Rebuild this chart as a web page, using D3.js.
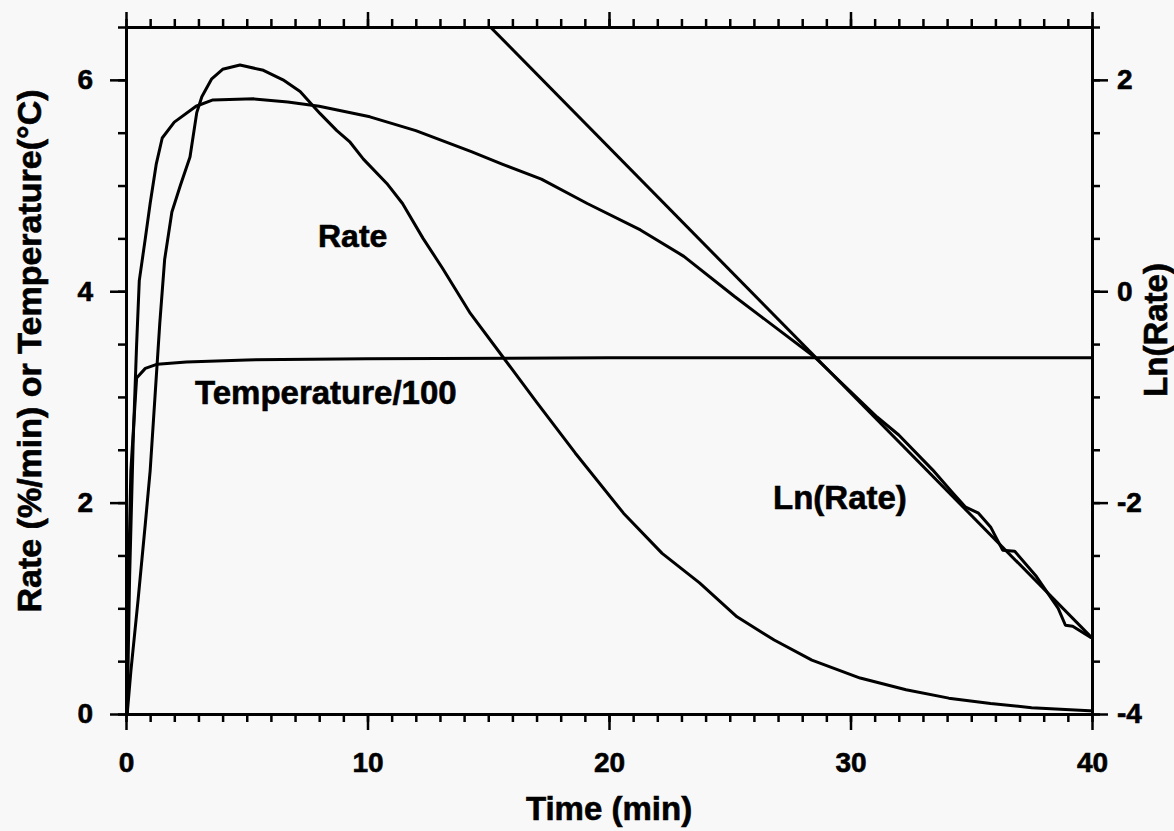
<!DOCTYPE html>
<html>
<head>
<meta charset="utf-8">
<script src="https://cdn.jsdelivr.net/npm/d3@7"></script>
<style>
  html, body { margin: 0; padding: 0; background: #f8f8f8; }
  svg { display: block; }
  text { font-family: "Liberation Sans", Arial, Helvetica, sans-serif; font-weight: bold; fill: #000; stroke: #000; stroke-width: 0.6px; }
</style>
</head>
<body>
<svg id="chart" width="1174" height="831"></svg>
<script>
// ---------------- data ----------------
const rateT = [0.05, 0.2, 0.5, 0.8, 1.0, 1.2, 1.4, 1.6, 1.9, 2.25, 2.65, 2.93, 3.14, 3.55, 4.0, 4.72, 5.69, 6.5, 7.21, 8.04, 8.73, 9.28, 9.83, 10.8, 11.45, 12.3, 13.1, 14.26, 15.6, 17.0, 18.6, 20.6, 22.2, 23.75, 25.3, 26.84, 28.4, 30.4, 32.3, 34.07, 35.8, 37.5, 39.9, 40];
const rateV = [0, 0.4, 1.08, 1.8, 2.3, 3.0, 3.7, 4.3, 4.75, 5.0, 5.27, 5.69, 5.84, 6.01, 6.1, 6.14, 6.09, 6.0, 5.89, 5.68, 5.52, 5.41, 5.25, 5.02, 4.83, 4.50, 4.22, 3.79, 3.38, 2.95, 2.47, 1.90, 1.52, 1.24, 0.92, 0.70, 0.51, 0.34, 0.23, 0.15, 0.10, 0.06, 0.03, 0.03];

const tempT = [0.02, 0.08, 0.2, 0.44, 0.8, 1.3, 2.5, 5, 10, 20, 30, 40];
const tempV = [0, 1.0, 2.3, 3.18, 3.27, 3.31, 3.33, 3.35, 3.36, 3.37, 3.37, 3.37];

// Ln(Rate), right-axis units
const lnT = [0.05, 0.15, 0.3, 0.44, 0.55, 0.8, 1.0, 1.25, 1.5, 2.0, 2.9, 3.6, 5.3, 6.7, 8.0, 10.1, 12.0, 14.3, 15.6, 17.2, 19.1, 21.3, 23.1, 25.2, 26.3, 28.5, 31.1, 32.0, 33.4, 34.2, 34.75, 35.3, 35.8, 36.3, 36.8, 37.7, 38.6, 38.9, 39.2, 39.9, 40];
const lnV = [-4, -2.7, -1.4, -0.5, 0.1, 0.5, 0.83, 1.2, 1.45, 1.6, 1.75, 1.81, 1.82, 1.79, 1.75, 1.65, 1.52, 1.32, 1.2, 1.06, 0.83, 0.58, 0.33, -0.05, -0.24, -0.62, -1.19, -1.36, -1.69, -1.9, -2.04, -2.1, -2.23, -2.45, -2.46, -2.70, -3.0, -3.16, -3.17, -3.27, -3.28];

// straight-line fit of Ln(Rate), right-axis units
const fitT = [15, 40];
const fitV = [2.52, -3.28];

const xMajor = [0, 10, 20, 30, 40];
const xMinor = d3.range(0, 41, 1);
const yLeftMajor = [0, 2, 4, 6];
const yLeftMinor = d3.range(0, 6.51, 0.5);
const yRightMajor = [-4, -2, 0, 2];
const yRightMinor = d3.range(-4, 2.51, 0.5);

const labels = {
  x: "Time (min)",
  yLeft: "Rate (%/min) or Temperature(\u00B0C)",
  yRight: "Ln(Rate)",
  rate: "Rate",
  temp: "Temperature/100",
  ln: "Ln(Rate)"
};

// ---------------- layout ----------------
const L = 126, R = 1092, T = 27, B = 714;
const svg = d3.select("#chart");

const x = d3.scaleLinear().domain([0, 40]).range([L, R]);
const yL = d3.scaleLinear().domain([0, 6.5]).range([B, T]);
const yR = d3.scaleLinear().domain([-4, 2.5]).range([B, T]);

svg.append("defs").append("clipPath").attr("id", "plot")
  .append("rect").attr("x", L).attr("y", T).attr("width", R - L).attr("height", B - T);

const tickFont = 28;
const fmt = d => String(d);
function styleAxis(g, showLabels) {
  g.select(".domain").attr("stroke", "#000").attr("stroke-width", 3);
  g.selectAll(".tick line").attr("stroke", "#000").attr("stroke-width", 2.5);
  g.selectAll(".tick text").style("font-size", tickFont + "px")
    .attr("fill", "#000")
    .style("display", showLabels ? null : "none");
}

// bottom
svg.append("g").attr("transform", `translate(0,${B})`)
  .call(d3.axisBottom(x).tickValues(xMinor).tickSize(8).tickSizeOuter(0).tickFormat(""))
  .call(g => styleAxis(g, false));
svg.append("g").attr("transform", `translate(0,${B})`)
  .call(d3.axisBottom(x).tickValues(xMajor).tickSize(16).tickSizeOuter(0).tickPadding(22).tickFormat(fmt))
  .call(g => styleAxis(g, true));
// top
svg.append("g").attr("transform", `translate(0,${T})`)
  .call(d3.axisTop(x).tickValues(xMinor).tickSize(8).tickSizeOuter(0).tickFormat(""))
  .call(g => styleAxis(g, false));
svg.append("g").attr("transform", `translate(0,${T})`)
  .call(d3.axisTop(x).tickValues(xMajor).tickSize(15).tickSizeOuter(0).tickFormat(""))
  .call(g => styleAxis(g, false));
// left
svg.append("g").attr("transform", `translate(${L},0)`)
  .call(d3.axisLeft(yL).tickValues(yLeftMinor).tickSize(8).tickSizeOuter(0).tickFormat(""))
  .call(g => styleAxis(g, false));
svg.append("g").attr("transform", `translate(${L},0)`)
  .call(d3.axisLeft(yL).tickValues(yLeftMajor).tickSize(16).tickSizeOuter(0).tickPadding(17).tickFormat(fmt))
  .call(g => styleAxis(g, true));
// right
svg.append("g").attr("transform", `translate(${R},0)`)
  .call(d3.axisRight(yR).tickValues(yRightMinor).tickSize(8).tickSizeOuter(0).tickFormat(""))
  .call(g => styleAxis(g, false));
svg.append("g").attr("transform", `translate(${R},0)`)
  .call(d3.axisRight(yR).tickValues(yRightMajor).tickSize(16).tickSizeOuter(0).tickPadding(9).tickFormat(fmt))
  .call(g => styleAxis(g, true));

// ---------------- series ----------------
const plot = svg.append("g").attr("clip-path", "url(#plot)");
function drawLine(ts, vs, yScale) {
  const pts = ts.map((t, i) => [t, vs[i]]);
  plot.append("path")
    .datum(pts)
    .attr("fill", "none")
    .attr("stroke", "#000")
    .attr("stroke-width", 3)
    .attr("stroke-linejoin", "round")
    .attr("d", d3.line().x(d => x(d[0])).y(d => yScale(d[1])));
}
drawLine(tempT, tempV, yL);
drawLine(rateT, rateV, yL);
drawLine(lnT, lnV, yR);
drawLine(fitT, fitV, yR);

// ---------------- text ----------------
svg.append("text").attr("x", 318).attr("y", 247).style("font-size", "32px").text(labels.rate);
svg.append("text").attr("x", 195).attr("y", 404).style("font-size", "33px").text(labels.temp);
svg.append("text").attr("x", 773).attr("y", 509).style("font-size", "33px").text(labels.ln);

svg.append("text").attr("x", (L + R) / 2).attr("y", 820).attr("text-anchor", "middle")
  .style("font-size", "33px").text(labels.x);
svg.append("text").attr("transform", "translate(41,351) rotate(-90)").attr("text-anchor", "middle")
  .style("font-size", "34px").text(labels.yLeft);
svg.append("text").attr("transform", "translate(1167,330) rotate(-90)").attr("text-anchor", "middle")
  .style("font-size", "33px").text(labels.yRight);
</script>
</body>
</html>
